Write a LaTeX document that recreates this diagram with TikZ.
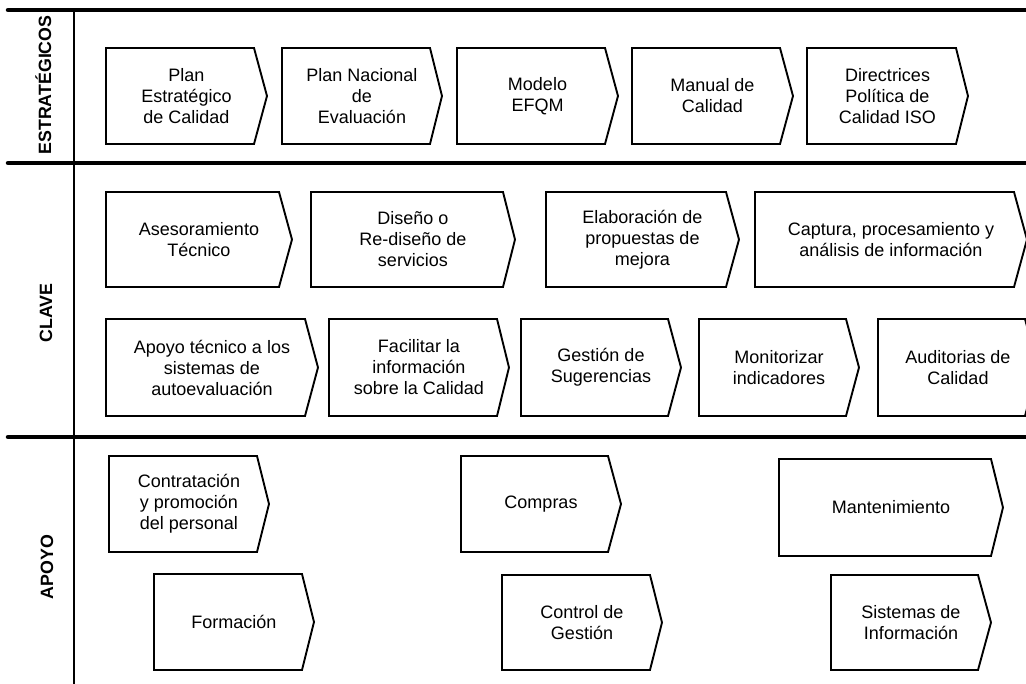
\documentclass[tikz,border=0pt]{standalone}
\usepackage{fontspec}
\setmainfont{Liberation Sans}
% process box: rectangle with a pointed right end, text centred over the whole shape
% #1 name, #2 left, #3 right edge, #4 tip, #5 top, #6 bottom, #7 text
\newcommand\procbox[7]{%
  \draw[chevline] (#2,#5) -- (#3,#5) -- (#4,{(#5+#6)/2}) -- (#3,#6) -- (#2,#6) -- cycle;
  \node[boxtext] (#1) at ({(#2+#4)/2},{(#5+#6)/2}) {#7};}
\begin{document}
\begin{tikzpicture}[x=1pt,y=-1pt,
  lane/.style={line width=4.5pt,line cap=round},
  divider/.style={line width=2pt},
  chevline/.style={line width=1.9pt,line join=miter},
  boxtext/.style={align=center,font=\fontsize{18}{21}\selectfont,inner sep=0pt},
  lanelabel/.style={rotate=90,anchor=base,inner sep=0pt,font=\fontsize{17.8}{21}\selectfont\bfseries}]
\useasboundingbox (0,0) rectangle (1026,684);
\fill[white] (0,0) rectangle (1026,684);
\clip (0,0) rectangle (1026,684);

% lane separators
\draw[lane] (8,10) -- (1040,10);
\draw[lane] (8,163) -- (1040,163);
\draw[lane] (8,437) -- (1040,437);
\draw[divider] (74,10) -- (74,690);

% lane titles
\node[lanelabel] (lstrat) at (51,85) {ESTRATÉGICOS};
\node[lanelabel] (lclave) at (52,313) {CLAVE};
\node[lanelabel] (lapoyo) at (53,567) {APOYO};

% strategic processes
\procbox{s1}{106}{254}{267}{48}{144}{Plan\\Estratégico\\de Calidad}
\procbox{s2}{282}{430}{442}{48}{144}{Plan Nacional\\de\\Evaluación}
\procbox{s3}{457}{605}{618}{48}{144}{Modelo\\EFQM}
\procbox{s4}{632}{780}{793}{48}{144}{Manual de\\Calidad}
\procbox{s5}{807}{956}{968}{48}{144}{Directrices\\Política de\\Calidad ISO}

% key processes, first row
\procbox{k1}{106}{279}{292}{192}{287}{Asesoramiento\\Técnico}
\procbox{k2}{311}{503}{515}{192}{287}{Diseño o\\Re-diseño de\\servicios}
\procbox{k3}{546}{726}{739}{192}{287}{Elaboración de\\propuestas de\\mejora}
\procbox{k4}{755}{1014}{1027}{192}{287}{Captura, procesamiento y\\análisis de información}

% key processes, second row
\procbox{k5}{106}{305}{318}{319}{416}{Apoyo técnico a los\\sistemas de\\autoevaluación}
\procbox{k6}{329}{497}{509}{319}{416}{Facilitar la\\información\\sobre la Calidad}
\procbox{k7}{521}{668}{681}{319}{416}{Gestión de\\Sugerencias}
\procbox{k8}{699}{846}{859}{319}{416}{Monitorizar\\indicadores}
\procbox{k9}{878}{1025}{1038}{319}{416}{Auditorias de\\Calidad}

% support processes
\procbox{a1}{109}{257}{269}{456}{552}{Contratación\\y promoción\\del personal}
\procbox{a2}{461}{608}{621}{456}{552}{Compras}
\procbox{a3}{779}{991}{1003}{459}{556}{Mantenimiento}
\procbox{a4}{154}{302}{314}{574}{670}{Formación}
\procbox{a5}{502}{650}{662}{575}{670}{Control de\\Gestión}
\procbox{a6}{831}{978}{991}{575}{670}{Sistemas de\\Información}
\end{tikzpicture}
\end{document}
